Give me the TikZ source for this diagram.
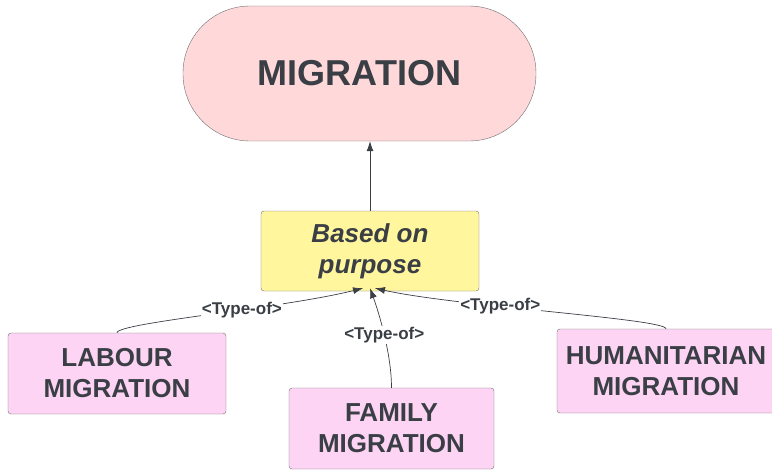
\documentclass[tikz,border=0pt]{standalone}
\usepackage{fontspec}
\setmainfont{Liberation Sans}
\usetikzlibrary{positioning,arrows.meta}
\definecolor{ink}{HTML}{3A3E45}
\definecolor{edge}{HTML}{6E6E72}
\definecolor{migfill}{HTML}{FFD8D9}
\definecolor{purposefill}{HTML}{FFF69E}
\definecolor{kindfill}{HTML}{FDD4F4}

\begin{document}
\begin{tikzpicture}[x=1pt,y=-1pt,
  kind/.style={draw=edge,fill=kindfill,rounded corners=3pt,minimum height=81pt,
    align=center,text=ink,font=\fontsize{26}{31}\selectfont\bfseries},
  typeof/.style={draw=ink,line width=0.7pt,-{Latex[length=10pt,width=7pt]}},
  tlabel/.style={fill=white,inner sep=1pt,text=ink,font=\fontsize{17}{19}\selectfont\bfseries}]
\useasboundingbox (0,0) rectangle (772,471);

\node[draw=edge,fill=migfill,rounded corners=67pt,minimum width=353pt,minimum height=135pt,
  text=ink,font=\fontsize{36}{42}\selectfont\bfseries] (migration) at (359.5,73.5) {MIGRATION};
\node[draw=edge,fill=purposefill,rounded corners=3pt,minimum width=218pt,minimum height=80pt,
  align=center,text=ink,font=\fontsize{26}{31}\selectfont\bfseries\itshape] (purpose) at (370,251) {Based on\\purpose};

\node[kind,minimum width=218pt] (labour) at (117,373.5) {LABOUR\\MIGRATION};
\node[kind,minimum width=205pt] (family) at (391.5,428.5) {FAMILY\\MIGRATION};
\node[kind,minimum width=218pt,minimum height=84pt] (humanitarian) at (666,371) {HUMANITARIAN\\MIGRATION};

\draw[typeof] (purpose.north) -- (purpose.north |- migration.south);

\draw[typeof] (labour.north) .. controls +(0,-10) and +(-80,20) .. ([xshift=-7pt,yshift=3pt]purpose.south)
  node[tlabel,pos=0.6] {<Type-of>};
\draw[typeof] (family.north) .. controls +(0,-35) and +(8,22) .. ([yshift=3pt]purpose.south)
  node[tlabel,pos=0.48] {<Type-of>};
\draw[typeof] (humanitarian.north) .. controls +(0,-10) and +(80,18) .. ([xshift=5pt,yshift=3pt]purpose.south)
  node[tlabel,pos=0.63] {<Type-of>};
\end{tikzpicture}
\end{document}
